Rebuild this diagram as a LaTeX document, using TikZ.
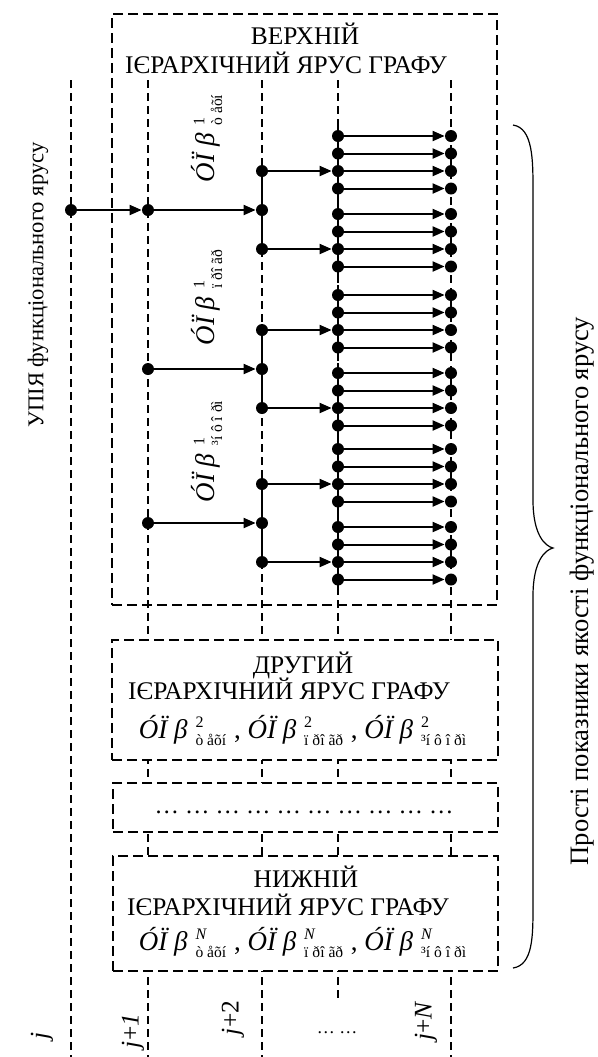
\documentclass[tikz,border=0pt]{standalone}
\usepackage{amsmath}
\usepackage{fontspec}
\setmainfont{Liberation Serif}
\usetikzlibrary{arrows.meta}

\tikzset{
  dot/.style={circle,fill,inner sep=0pt,minimum size=6pt},
  link/.style={-{Triangle[length=6pt,width=5pt]},line width=1pt},
  col/.style={line width=0.9pt,dash pattern=on 4pt off 2.5pt},
  tier/.style={draw,line width=0.6pt,dash pattern=on 5pt off 2.5pt,inner sep=0pt},
  stem/.style={line width=1pt},
  txt/.style={inner sep=0pt,font=\fontsize{12.7}{15}\selectfont},
  frm/.style={inner sep=0pt,font=\fontsize{13.5}{16}\selectfont},
}
\newcommand\upb[2]{\textit{ÓÏ β}\hspace{4pt}${}^{\text{\fontsize{8}{9}\selectfont#1}}_{\text{\fontsize{7.8}{9}\selectfont#2}}$}

\begin{document}
\begin{tikzpicture}[x=0.5pt,y=-0.5pt]
        \useasboundingbox (0,0) rectangle (598,1057);
        % upper tier
        \node[tier,minimum width=192.5pt,minimum height=295.5pt] (tier1) at (304.5,309.5) {};
        \node[txt,anchor=base] (h1a) at (305,44) {ВЕРХНІЙ};
        \node[txt,anchor=base] (h1b) at (286,73) {ІЄРАРХІЧНИЙ ЯРУС ГРАФУ};

        % columns j ... j+N
        \foreach \x/\e [count=\n] in {71/1057,148/1057,262/1057,338/1000,451/1057} {
          \coordinate (t\n) at (\x,80);
          \coordinate (u\n) at (\x,\e);
          \draw[col] (t\n) -- (u\n);
        }

        % lower tiers
        \node[tier,fill=white,minimum width=193pt,minimum height=60pt] (tier2) at (305,700) {};
        \node[txt,anchor=base] (h2a) at (303,673) {ДРУГИЙ};
        \node[txt,anchor=base] (h2b) at (289,699) {ІЄРАРХІЧНИЙ ЯРУС ГРАФУ};
        \node[frm,anchor=base] (h2c) at (303,738) {\upb{2}{ò åõí} , \upb{2}{ï ðî ãð} , \upb{2}{³í ô î ðì}};

        \node[tier,fill=white,minimum width=192.5pt,minimum height=24.5pt] (tier3) at (305.5,807.5) {};
        \node[txt,font=\fontsize{12.2}{14}\selectfont] (h3) at (304,812) {… … … … … … … … … …};

        \node[tier,fill=white,minimum width=192.5pt,minimum height=57.5pt] (tier4) at (305.5,913.5) {};
        \node[txt,anchor=base] (h4a) at (306,887) {НИЖНІЙ};
        \node[txt,anchor=base] (h4b) at (288,915) {ІЄРАРХІЧНИЙ ЯРУС ГРАФУ};
        \node[frm,anchor=base] (h4c) at (303,950) {\upb{\textit{N}}{ò åõí} , \upb{\textit{N}}{ï ðî ãð} , \upb{\textit{N}}{³í ô î ðì}};

        % graph of the upper tier
        \node[dot] (a0) at (71,210) {};
        \foreach \c/\s [count=\i] in {210/ò åõí,369/ï ðî ãð,523/³í ô î ðì} {
          \node[dot] (b\i) at (148,\c) {};
          \node[dot] (c\i) at (262,\c) {};
          \node[dot] (cu\i) at (262,\c-39) {};
          \node[dot] (cd\i) at (262,\c+39) {};
          \draw[stem] (cu\i.center) -- (cd\i.center);
          \draw[link] (b\i) -- (c\i);
          \node[frm,rotate=90] (l\i) at (207,\c-72) {\upb{1}{\s}};
        }
        \draw[link] (a0) -- (b1);

        \foreach \a/\f [count=\k] in {171/cu1,249/cd1,330/cu2,408/cd2,484/cu3,562/cd3} {
          \foreach \o [count=\m] in {-35,-17.5,0,17.5} {
            \node[dot] (d\k\m) at (338,\a+\o) {};
            \node[dot] (e\k\m) at (451,\a+\o) {};
            \draw[link] (d\k\m) -- (e\k\m);
          }
          \draw[stem,shorten <=-5pt,shorten >=-5pt] (d\k1.center) -- (d\k4.center);
          \draw[link] (\f) -- (d\k3);
        }

        % labels
        \node[txt,rotate=90,font=\fontsize{11.3}{13}\selectfont] (fl) at (38,285) {УПІЯ функціонального ярусу};
        \draw[line width=0.6pt] (513,125) .. controls (533,128) and (533,160) .. (533,190) -- (533,500)
          .. controls (533,535) and (545,546) .. (553,548) .. controls (545,550) and (533,561) .. (533,596)
          -- (533,906) .. controls (533,936) and (533,965) .. (513,968);
        \node[txt,rotate=90,font=\fontsize{13.3}{15}\selectfont] (fr) at (582,591) {Прості показники якості функціонального ярусу};

        \node[txt,rotate=90] (n0) at (42,1036) {\textit{j}};
        \node[txt,rotate=90] (n1) at (133,1031) {\textit{j}+\textit{1}};
        \node[txt,rotate=90] (n2) at (233,1018) {\textit{j}+2};
        \node[txt,font=\fontsize{9}{11}\selectfont] (n3) at (337,1033) {… …};
        \node[txt,rotate=90] (n4) at (426,1021) {\textit{j}+\textit{N}};
\end{tikzpicture}
\end{document}
